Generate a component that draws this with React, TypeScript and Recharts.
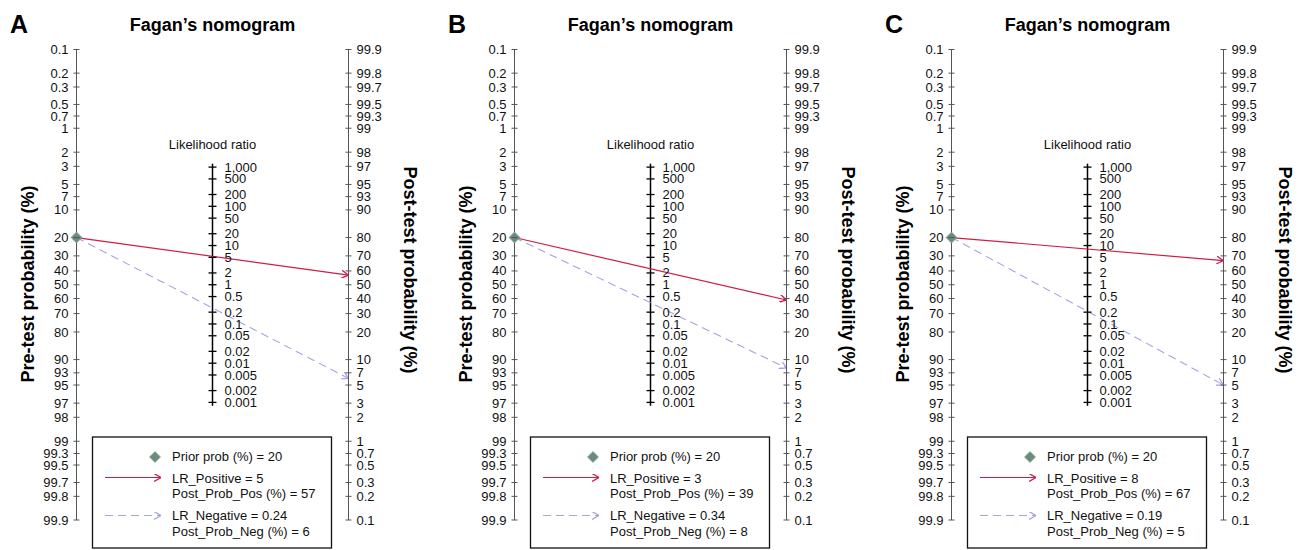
import React from "react";
import { ComposedChart, Line, Scatter, XAxis, YAxis, ReferenceLine } from "recharts";

// Panel data
const panelLetters = ["A", "B", "C"];
const priorProb = [20, 20, 20];
const lrPositive = [5, 3, 8];
const postProbPos = [57, 39, 67];
const lrNegative = [0.24, 0.34, 0.19];
const postProbNeg = [6, 8, 5];

// Axis ticks
const probTicks = [0.1, 0.2, 0.3, 0.5, 0.7, 1, 2, 3, 5, 7, 10, 20, 30, 40, 50, 60, 70, 80, 90, 93, 95, 97, 98, 99, 99.3, 99.5, 99.7, 99.8, 99.9];
const lrTicks = [1000, 500, 200, 100, 50, 20, 10, 5, 2, 1, 0.5, 0.2, 0.1, 0.05, 0.02, 0.01, 0.005, 0.002, 0.001];

const FONT = '"Liberation Sans", Arial, Helvetica, sans-serif';
const POS_COLOR = "#d01c48";
const NEG_COLOR = "#a4a4e4";
const PRIOR_COLOR = "#6b8c7d";
const AXIS_COLOR = "#555";

const W = 437;
const H = 550;
// yAxis widths are 1px each, so the plot runs from x=76.5 to x=348.5
const margin = { top: 49.5, right: 87.5, bottom: 30, left: 75.5 };

const logit = (pct: number) => Math.log(pct / (100 - pct));
const LIM = logit(99.9);
const fmtPct = (v: number) => String(Number((100 / (1 + Math.exp(-v))).toFixed(1)));

const LeftTick = (props: any) => {
  const { x, y, payload } = props;
  return (
    <g>
      <line x1={x - 3} x2={x + 3} y1={y} y2={y} stroke={AXIS_COLOR} />
      <text x={x - 8} y={y} dy="0.35em" textAnchor="end" fontSize={13} fill="#111" fontFamily={FONT}>
        {fmtPct(payload.value)}
      </text>
    </g>
  );
};

const RightTick = (props: any) => {
  const { x, y, payload } = props;
  return (
    <g>
      <line x1={x - 3} x2={x + 3} y1={y} y2={y} stroke={AXIS_COLOR} />
      <text x={x + 8} y={y} dy="0.35em" textAnchor="start" fontSize={13} fill="#111" fontFamily={FONT}>
        {fmtPct(payload.value)}
      </text>
    </g>
  );
};

const LrTick = (props: any) => {
  const { cx, cy, payload } = props;
  const label = payload.lr >= 1000 ? payload.lr.toLocaleString("en-US") : String(payload.lr);
  return (
    <g>
      <line x1={cx - 4} x2={cx + 4} y1={cy} y2={cy} stroke="#000" strokeWidth={1.3} />
      <text x={cx + 12} y={cy} dy="0.35em" fontSize={13} fill="#111" fontFamily={FONT}>
        {label}
      </text>
    </g>
  );
};

const Diamond = (props: any) => {
  const { cx, cy } = props;
  const r = 5.5;
  return <polygon points={`${cx},${cy - r} ${cx + r},${cy} ${cx},${cy + r} ${cx - r},${cy}`} fill={PRIOR_COLOR} stroke="#8aa89a" strokeWidth={0.8} />;
};

const Nothing = () => <g />;

const Panel: React.FC<{ i: number }> = ({ i }) => {
  const prior = priorProb[i];
  const posLine = [
    { x: 0, v: logit(prior) },
    { x: 1, v: -logit(postProbPos[i]) },
  ];
  const negLine = [
    { x: 0, v: logit(prior) },
    { x: 1, v: -logit(postProbNeg[i]) },
  ];
  // the same two end points, read on the post-test axis
  const postPoints = [
    { x: 1, v: logit(postProbPos[i]) },
    { x: 1, v: logit(postProbNeg[i]) },
  ];
  const priorPoint = [{ x: 0, v: logit(prior) }];
  const lrData = lrTicks.map((lr) => ({ x: 0.5, v: -Math.log(lr) / 2, lr }));
  const lrTop = -Math.log(lrTicks[0]) / 2 - 0.1;
  const lrBottom = -Math.log(lrTicks[lrTicks.length - 1]) / 2 + 0.1;

  return (
    <div style={{ position: "absolute", left: i * 437.5, top: 0, width: W, height: H }}>
      <ComposedChart width={W} height={H} margin={margin} style={{ fontFamily: FONT }}>
        <XAxis dataKey="x" type="number" domain={[0, 1]} hide />
        <YAxis
          yAxisId="pre"
          dataKey="v"
          type="number"
          domain={[-LIM, LIM]}
          reversed
          width={1}
          ticks={probTicks.map(logit)}
          interval={0}
          tickSize={0}
          tickMargin={0}
          tickLine={false}
          axisLine={{ stroke: AXIS_COLOR }}
          tick={<LeftTick />}
        />
        <YAxis
          yAxisId="post"
          dataKey="v"
          orientation="right"
          type="number"
          domain={[-LIM, LIM]}
          width={1}
          ticks={probTicks.map(logit)}
          interval={0}
          tickSize={0}
          tickMargin={0}
          tickLine={false}
          axisLine={{ stroke: AXIS_COLOR }}
          tick={<RightTick />}
        />
        <ReferenceLine
          yAxisId="pre"
          segment={[
            { x: 0.5, y: lrTop },
            { x: 0.5, y: lrBottom },
          ]}
          stroke="#000"
          strokeWidth={1.5}
          label={{ value: "Likelihood ratio", position: "top", offset: 15, fontSize: 13, fill: "#111" }}
        />
        <Scatter yAxisId="pre" data={lrData} shape={<LrTick />} isAnimationActive={false} />
        <Scatter yAxisId="post" data={postPoints} shape={<Nothing />} isAnimationActive={false} />
        <Line
          yAxisId="pre"
          data={negLine}
          dataKey="v"
          stroke={NEG_COLOR}
          strokeWidth={1.1}
          strokeDasharray="8 5"
          dot={false}
          activeDot={false}
          markerEnd="url(#arrNeg)"
          isAnimationActive={false}
        />
        <Line
          yAxisId="pre"
          data={posLine}
          dataKey="v"
          stroke={POS_COLOR}
          strokeWidth={1.2}
          dot={false}
          activeDot={false}
          markerEnd="url(#arrPos)"
          isAnimationActive={false}
        />
        <Scatter yAxisId="pre" data={priorPoint} shape={<Diamond />} isAnimationActive={false} />
      </ComposedChart>
      <svg width={W} height={H} style={{ position: "absolute", left: 0, top: 0, pointerEvents: "none", fontFamily: FONT }}>
        <text x={10} y={33} fontSize={25} fontWeight="bold" fill="#000">
          {panelLetters[i]}
        </text>
        <text x={212.5} y={31} fontSize={18} fontWeight="bold" textAnchor="middle" fill="#000">
          Fagan’s nomogram
        </text>
        <text x={34} y={284} fontSize={18} fontWeight="bold" textAnchor="middle" transform="rotate(-90 34 284)" fill="#000">
          Pre-test probability (%)
        </text>
        <text x={404} y={270} fontSize={18} fontWeight="bold" textAnchor="middle" transform="rotate(90 404 270)" fill="#000">
          Post-test probability (%)
        </text>
        <rect x={92.5} y={437} width={239} height={111} fill="#fff" stroke="#111" strokeWidth={1.3} />
        <Diamond cx={155} cy={457} />
        <text x={172} y={461} fontSize={13} fill="#111">
          {`Prior prob (%) = ${prior}`}
        </text>
        <line x1={105} x2={161} y1={477.5} y2={477.5} stroke={POS_COLOR} strokeWidth={1.2} markerEnd="url(#arrPos)" />
        <text x={172} y={482.5} fontSize={13} fill="#111">
          {`LR_Positive = ${lrPositive[i]}`}
        </text>
        <text x={172} y={498} fontSize={13} fill="#111">
          {`Post_Prob_Pos (%) = ${postProbPos[i]}`}
        </text>
        <line x1={105} x2={161} y1={515.5} y2={515.5} stroke={NEG_COLOR} strokeWidth={1.1} strokeDasharray="8 5" markerEnd="url(#arrNeg)" />
        <text x={172} y={520} fontSize={13} fill="#111">
          {`LR_Negative = ${lrNegative[i]}`}
        </text>
        <text x={172} y={536} fontSize={13} fill="#111">
          {`Post_Prob_Neg (%) = ${postProbNeg[i]}`}
        </text>
      </svg>
    </div>
  );
};

export default function App() {
  return (
    <div style={{ position: "absolute", left: 0, top: 0, width: 1305, height: 550, background: "#fff", fontFamily: FONT }}>
      <svg width={0} height={0} style={{ position: "absolute" }}>
        <defs>
          <marker id="arrPos" viewBox="0 0 7 8" refX={7} refY={4} markerWidth={7} markerHeight={8} markerUnits="userSpaceOnUse" orient="auto">
            <path d="M0,0 L7,4 L0,8" fill="none" stroke={POS_COLOR} strokeWidth={1.3} />
          </marker>
          <marker id="arrNeg" viewBox="0 0 7 8" refX={7} refY={4} markerWidth={7} markerHeight={8} markerUnits="userSpaceOnUse" orient="auto">
            <path d="M0,0 L7,4 L0,8" fill="none" stroke={NEG_COLOR} strokeWidth={1.3} />
          </marker>
        </defs>
      </svg>
      {panelLetters.map((_, i) => (
        <Panel key={i} i={i} />
      ))}
    </div>
  );
}
